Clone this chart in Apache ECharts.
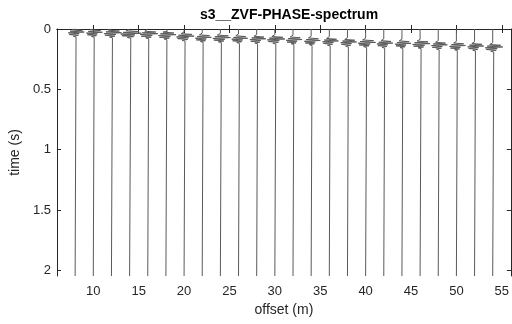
<!DOCTYPE html>
<html>
<head>
<meta charset="utf-8">
<script src="https://cdn.jsdelivr.net/npm/echarts@6/dist/echarts.min.js"></script>
<style>html,body{margin:0;padding:0;background:#fff}#c{width:512px;height:324px}</style>
</head>
<body>
<div id="c"></div>
<script>
// trace offsets (m)
const offsets = [8,10,12,14,16,18,20,22,24,26,28,30,32,34,36,38,40,42,44,46,48,50,52,54];
// onset time of each wavelet (s)
const arrivals = [-0.010,-0.008,-0.004,0.000,0.004,0.012,0.024,0.034,0.036,0.042,0.046,0.048,0.052,0.060,0.064,0.072,0.076,0.082,0.084,0.086,0.096,0.102,0.106,0.114];
// peak amplitude of each wavelet in offset units
const amps = [1.0,1.0,1.1,1.3,1.1,1.1,1.1,1.0,1.1,1.0,1.0,1.1,1.0,1.0,1.0,1.0,1.1,1.0,1.0,1.1,1.0,1.0,1.0,1.1];
// normalized wavelet samples (estimated shape)
const wavelet = [0, 0.15, -0.3, 0.8, -0.55, 1.0, -0.75, 0.45, -0.65, 0.35, -0.2, 0.1, 0];
const waveletStep = 0.007;
const tMax = 2.047;
const xTicks = [10,15,20,25,30,35,40,45,50,55];
const yTicks = [0,0.5,1,1.5,2];

const series = offsets.map((off, k) => {
  const pts = [[off, 0]];
  wavelet.forEach((w, i) => {
    const t = arrivals[k] + i * waveletStep;
    if (t >= 0) pts.push([off + amps[k] * w, t]);
  });
  pts.push([off, tMax]);
  return {
    type: 'line', data: pts, showSymbol: false, symbol: 'none',
    lineStyle: { color: '#5a5a5a', width: 1 }, silent: true, animation: false,
    xAxisIndex: 0, yAxisIndex: 0
  };
});

const axisColor = '#262626';
const font = 'Liberation Sans, Arial, Helvetica, sans-serif';
const chart = echarts.init(document.getElementById('c'), null, { renderer: 'canvas' });
chart.setOption({
  animation: false,
  backgroundColor: '#fff',
  title: {
    text: 's3__ZVF-PHASE-spectrum', left: 284, top: 3, textAlign: 'center',
    textStyle: { fontFamily: font, fontSize: 14, fontWeight: 'bold', color: '#000' }
  },
  grid: { left: 56, right: -1, top: 29, bottom: 48, containLabel: false },
  xAxis: [{
    type: 'value', min: 6, max: 56, position: 'bottom',
    name: 'offset (m)', nameLocation: 'middle', nameGap: 27,
    nameTextStyle: { fontFamily: font, fontSize: 14, color: axisColor },
    axisLine: { show: true, lineStyle: { color: axisColor, width: 1 } },
    axisTick: { show: true, inside: true, length: 4, customValues: xTicks, lineStyle: { color: axisColor } },
    axisLabel: { customValues: xTicks, fontFamily: font, fontSize: 13, color: axisColor, margin: 9 },
    splitLine: { show: false }
  }, {
    type: 'value', min: 6, max: 56, position: 'top',
    axisLine: { show: true, lineStyle: { color: axisColor, width: 1 } },
    axisTick: { show: true, inside: true, length: 4, customValues: xTicks, lineStyle: { color: axisColor } },
    axisLabel: { show: false }, splitLine: { show: false }
  }],
  yAxis: [{
    type: 'value', min: 0, max: tMax, inverse: true, position: 'left',
    name: 'time (s)', nameLocation: 'middle', nameGap: 26,
    nameTextStyle: { fontFamily: font, fontSize: 14, color: axisColor },
    axisLine: { show: true, lineStyle: { color: axisColor, width: 1 } },
    axisTick: { show: true, inside: true, length: 4, customValues: yTicks, lineStyle: { color: axisColor } },
    axisLabel: { customValues: yTicks, fontFamily: font, fontSize: 13, color: axisColor, margin: 6 },
    splitLine: { show: false }
  }, {
    type: 'value', min: 0, max: tMax, inverse: true, position: 'right',
    axisLine: { show: true, lineStyle: { color: axisColor, width: 1 } },
    axisTick: { show: true, inside: true, length: 4, customValues: yTicks, lineStyle: { color: axisColor } },
    axisLabel: { show: false }, splitLine: { show: false }
  }],
  series: series
});
</script>
</body>
</html>
